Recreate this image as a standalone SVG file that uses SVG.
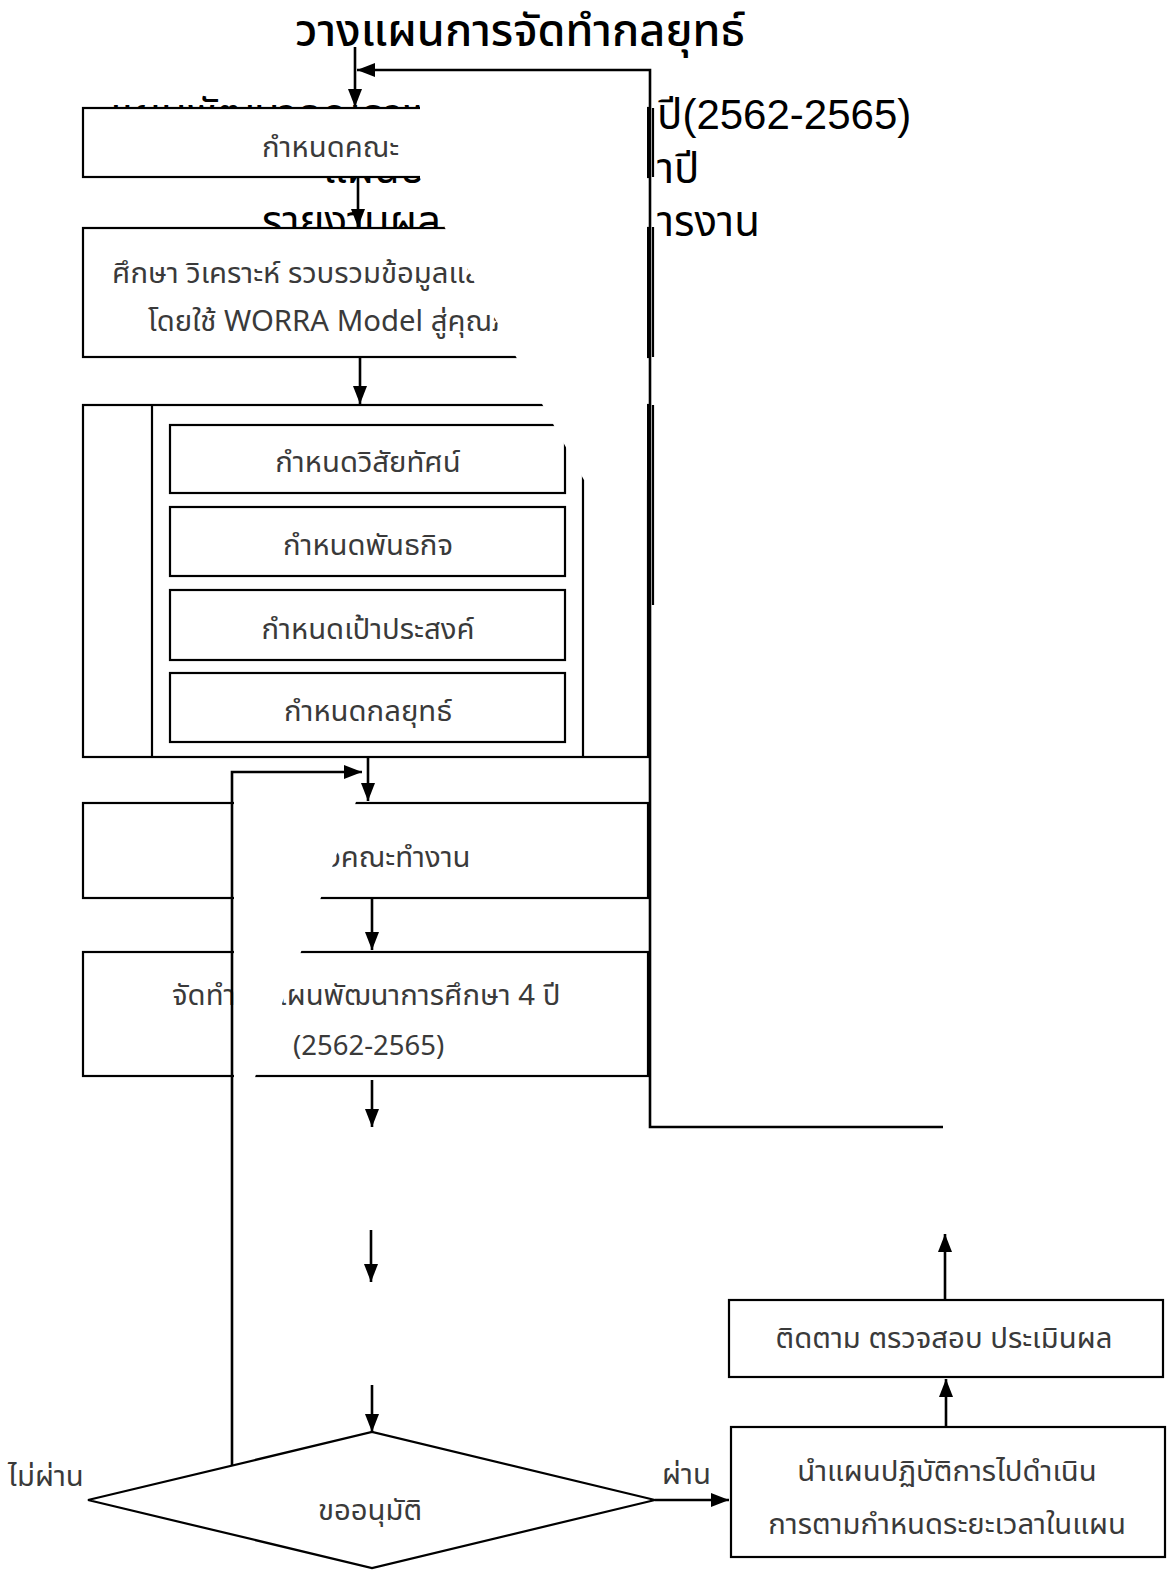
<svg xmlns="http://www.w3.org/2000/svg" width="1172" height="1571" viewBox="0 0 1172 1571">
<defs>
<style>
.box{fill:#fff;stroke:#000;stroke-width:2.2}
.ln{fill:none;stroke:#000;stroke-width:2.2}
.con{fill:none;stroke:#000;stroke-width:2.6}
.big{font-family:"Liberation Sans","Noto Sans Thai","DejaVu Sans",sans-serif;font-size:42px;fill:#000}
.ttl{font-family:"Noto Sans Thai","Liberation Sans","DejaVu Sans",sans-serif;font-size:45px;font-weight:500;fill:#000}
.t{font-family:"Noto Sans Thai","Liberation Sans","DejaVu Sans",sans-serif;font-size:29.3px;fill:#3a3a3a}
.occ{fill:#fff;stroke:none}
</style>
<marker id="ah" viewBox="0 0 18 14" refX="18" refY="7" markerWidth="18" markerHeight="14" markerUnits="userSpaceOnUse" orient="auto"><path d="M0,0 L18,7 L0,14 z" fill="#000"/></marker>
</defs>
<rect width="1172" height="1571" fill="#fff"/>

<g id="title">
<text class="ttl" x="520" y="46" text-anchor="middle">วางแผนการจัดทำกลยุทธ์</text>
</g>

<g id="background-text">
<text class="big" x="110" y="129">แผนพัฒนาคุณภาพการ</text>
<text class="big" x="323" y="183">แผนปฏิบัติการประจ</text>
<text class="big" x="262" y="236">รายงานผลการดำเนิน</text>
</g>

<g id="n-committee">
<rect class="box" x="83" y="108" width="565" height="69"/>
<line class="ln" x1="653" y1="108" x2="653" y2="177"/>
<text class="t" x="262" y="157">กำหนดคณะ</text>
</g>

<g id="n-study">
<rect class="box" x="83" y="228" width="565" height="129"/>
<line class="ln" x1="653" y1="227" x2="653" y2="357"/>
<text class="t" x="112" y="283">ศึกษา วิเคราะห์ รวบรวมข้อมูลและ</text>
<text class="t" x="148" y="331">โดยใช้ WORRA Model สู่คุณภาพ</text>
</g>

<g id="n-group">
<rect class="box" x="83" y="405" width="565" height="352"/>
<line class="ln" x1="653" y1="405" x2="653" y2="605"/>
<line class="ln" x1="152" y1="405" x2="152" y2="757"/>
<line class="ln" x1="583" y1="405" x2="583" y2="757"/>
</g>
<g id="n-vision">
<rect class="box" x="170" y="425" width="395" height="68"/>
<text class="t" x="368" y="472" text-anchor="middle">กำหนดวิสัยทัศน์</text>
</g>
<g id="n-mission">
<rect class="box" x="170" y="507" width="395" height="69"/>
<text class="t" x="368" y="555" text-anchor="middle">กำหนดพันธกิจ</text>
</g>
<g id="n-goal">
<rect class="box" x="170" y="590" width="395" height="70"/>
<text class="t" x="368" y="639" text-anchor="middle">กำหนดเป้าประสงค์</text>
</g>
<g id="n-strategy">
<rect class="box" x="170" y="673" width="395" height="69"/>
<text class="t" x="368" y="721" text-anchor="middle">กำหนดกลยุทธ์</text>
</g>

<g id="n-team">
<rect class="box" x="83" y="803" width="565" height="95"/>
<text class="t" x="325" y="867">งคณะทำงาน</text>
</g>

<g id="n-plan">
<rect class="box" x="83" y="952" width="565" height="124"/>
<text class="t" x="172" y="1005">จัดทำ</text>
<text class="t" x="270" y="1005">แผนพัฒนาการศึกษา 4 ปี</text>
<text class="t" x="293" y="1055" style="font-size:27.5px">(2562-2565)</text>
</g>

<g id="occluders">
<polygon class="occ" points="420,84 647,84 647,480 584,480 445,228 420,178"/>
<polygon class="occ" points="234,780 364,780 254,1080 234,1080"/>
</g>

<g id="background-text-right">
<text class="big" x="657" y="129">ปี(2562-2565)</text>
<text class="big" x="657" y="183">าปี</text>
<text class="big" x="657" y="236">ารงาน</text>
</g>

<g id="n-approve">
<polygon class="box" points="88,1500 372,1432 655,1500 372,1568"/>
<text class="t" x="370" y="1520" text-anchor="middle">ขออนุมัติ</text>
</g>

<g id="n-implement">
<rect class="box" x="731" y="1427" width="434" height="130"/>
<text class="t" x="947" y="1481" text-anchor="middle">นำแผนปฏิบัติการไปดำเนิน</text>
<text class="t" x="947" y="1534" text-anchor="middle">การตามกำหนดระยะเวลาในแผน</text>
</g>

<g id="n-monitor">
<rect class="box" x="729" y="1300" width="434" height="77"/>
<text class="t" x="944" y="1348" text-anchor="middle">ติดตาม ตรวจสอบ ประเมินผล</text>
</g>

<g id="labels">
<text class="t" x="8" y="1486">ไม่ผ่าน</text>
<text class="t" x="662" y="1484">ผ่าน</text>
</g>

<g id="connectors">
<path class="con" d="M355,47 V107" marker-end="url(#ah)"/>
<path class="con" d="M358,177 V227" marker-end="url(#ah)"/>
<path class="con" d="M360,357 V404" marker-end="url(#ah)"/>
<path class="con" d="M368,757 V801" marker-end="url(#ah)"/>
<path class="con" d="M372,898 V950" marker-end="url(#ah)"/>
<path class="con" d="M372,1080 V1127" marker-end="url(#ah)"/>
<path class="con" d="M371,1230 V1282" marker-end="url(#ah)"/>
<path class="con" d="M372,1385 V1432" marker-end="url(#ah)"/>
<path class="con" d="M943,1127 H650 V70 H357" marker-end="url(#ah)"/>
<path class="con" d="M232,1465 V772 H362" marker-end="url(#ah)"/>
<path class="con" d="M655,1500 H729" stroke-width="4" marker-end="url(#ah)"/>
<path class="con" d="M946,1427 V1379" marker-end="url(#ah)"/>
<path class="con" d="M945,1300 V1234" marker-end="url(#ah)"/>
</g>
</svg>
